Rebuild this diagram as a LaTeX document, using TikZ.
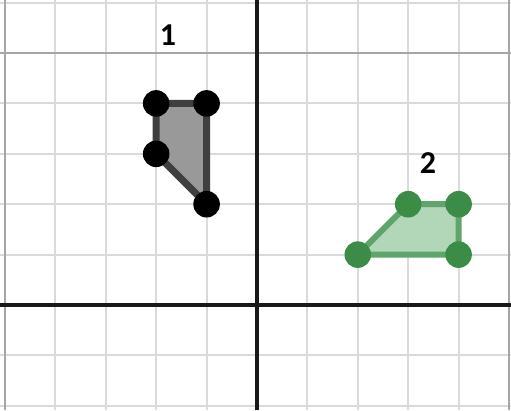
\documentclass[tikz,border=0pt]{standalone}
\usepackage{fontspec}
\setmainfont{Carlito}
\definecolor{gridc}{HTML}{DADADA}
\definecolor{gridd}{HTML}{A6A6A6}
\definecolor{onefill}{HTML}{999999}
\definecolor{oneedge}{HTML}{3F3F3F}
\definecolor{twofill}{HTML}{B2D6B8}
\definecolor{twoedge}{HTML}{5FA56B}
\definecolor{twodot}{HTML}{3A8C47}
\begin{document}
\begin{tikzpicture}[x=1cm,y=1cm,
  gridline/.style={draw=gridc,line width=1.2pt},
  gridstrong/.style={draw=gridd,line width=1.2pt},
  axisline/.style={draw=black!90,line width=2pt},
  blackdot/.style={circle,fill=black,inner sep=0pt,minimum size=15pt},
  greendot/.style={circle,fill=twodot,inner sep=0pt,minimum size=15pt},
  numlabel/.style={font=\fontsize{18}{20}\selectfont\bfseries,text=black}]
\useasboundingbox (-5.099,-2.083) rectangle (5.04,6.052);
\fill[white] (-5.099,-2.083) rectangle (5.04,6.052);
% grid
\foreach \x in {-4,...,4} \draw[gridline] (\x,-2.083) -- (\x,6.052);
\foreach \y in {-2,-1,1,2,3,4,6} \draw[gridline] (-5.099,\y) -- (5.04,\y);
\draw[gridstrong] (-5.099,5) -- (5.04,5);
\draw[gridstrong] (-5,-2.083) -- (-5,6.052);
\draw[gridstrong] (5,-2.083) -- (5,6.052);
% axes
\draw[axisline] (-5.099,0) -- (5.04,0);
\draw[axisline] (0,-2.083) -- (0,6.052);
% shape 1
\coordinate (a1) at (-2,4);
\coordinate (b1) at (-1,4);
\coordinate (c1) at (-1,2);
\coordinate (d1) at (-2,3);
\filldraw[fill=onefill,draw=oneedge,line width=4pt,line join=round]
  (a1) -- (b1) -- (c1) -- (d1) -- cycle;
\node[blackdot] (p1) at (a1) {};
\node[blackdot] (p2) at (b1) {};
\node[blackdot] (p3) at (c1) {};
\node[blackdot] (p4) at (d1) {};
% shape 2
\coordinate (a2) at (2,1);
\coordinate (b2) at (3,2);
\coordinate (c2) at (4,2);
\coordinate (d2) at (4,1);
\filldraw[fill=twofill,draw=twoedge,line width=3.4pt,line join=round]
  (a2) -- (b2) -- (c2) -- (d2) -- cycle;
\node[greendot] (q1) at (a2) {};
\node[greendot] (q2) at (b2) {};
\node[greendot] (q3) at (c2) {};
\node[greendot] (q4) at (d2) {};
% labels
\node[numlabel] (l1) at (-1.766,5.35) {1};
\node[numlabel] (l2) at (3.39,2.81) {2};
\end{tikzpicture}
\end{document}
